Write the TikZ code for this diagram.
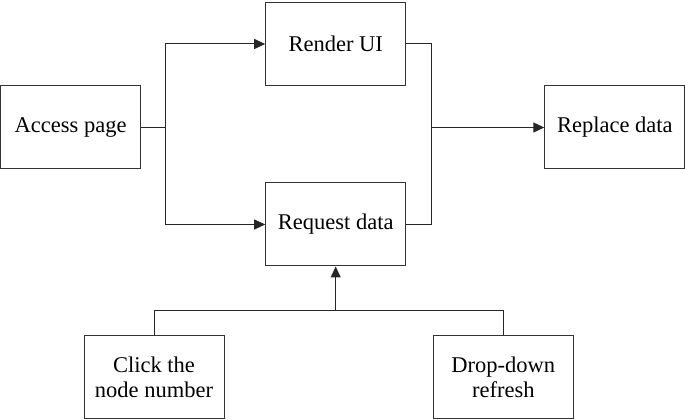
\documentclass[tikz,border=0pt]{standalone}
\usepackage{fontspec}
\setmainfont{Liberation Serif}
\newfontfamily\boxfont{Liberation Serif}
\usetikzlibrary{arrows.meta}
\begin{document}
\begin{tikzpicture}[x=1pt,y=1pt,
  box/.style={draw=black!80, line width=1pt, minimum width=140pt, minimum height=83pt, inner sep=0pt, align=center, font=\boxfont\fontsize{22.5}{25.7}\selectfont},
  conn/.style={draw=black!85, line width=1pt},
  arr/.style={conn, -{Triangle[length=11pt,width=10pt]}}]
\useasboundingbox (0,0) rectangle (685,420);
\node[box] (acc) at (70.6,292.5) {Access page};
\node[box] (render) at (335.7,376) {Render UI};
\node[box] (request) at (335.7,195.5) {Request data};
\node[box] (replace) at (614.8,292.5) {Replace data};
\node[box] (click) at (154,42.7) {Click the\\node number};
\node[box] (drop) at (503.3,42.7) {Drop-down\\refresh};
\coordinate (jl) at (165.7,292.5);
\coordinate (jr) at (431,292.5);
\coordinate (jb) at (335.7,109.3);
\draw[conn] (acc) -- (jl);
\draw[arr] (jl) |- (render);
\draw[arr] (jl) |- (request);
\draw[conn] (render) -| (jr);
\draw[conn] (request) -| (jr);
\draw[arr] (jr) -- (replace);
\draw[conn] (click.north) |- (jb) -| (drop.north);
\draw[arr] (jb) -- (request.south);
\end{tikzpicture}
\end{document}
